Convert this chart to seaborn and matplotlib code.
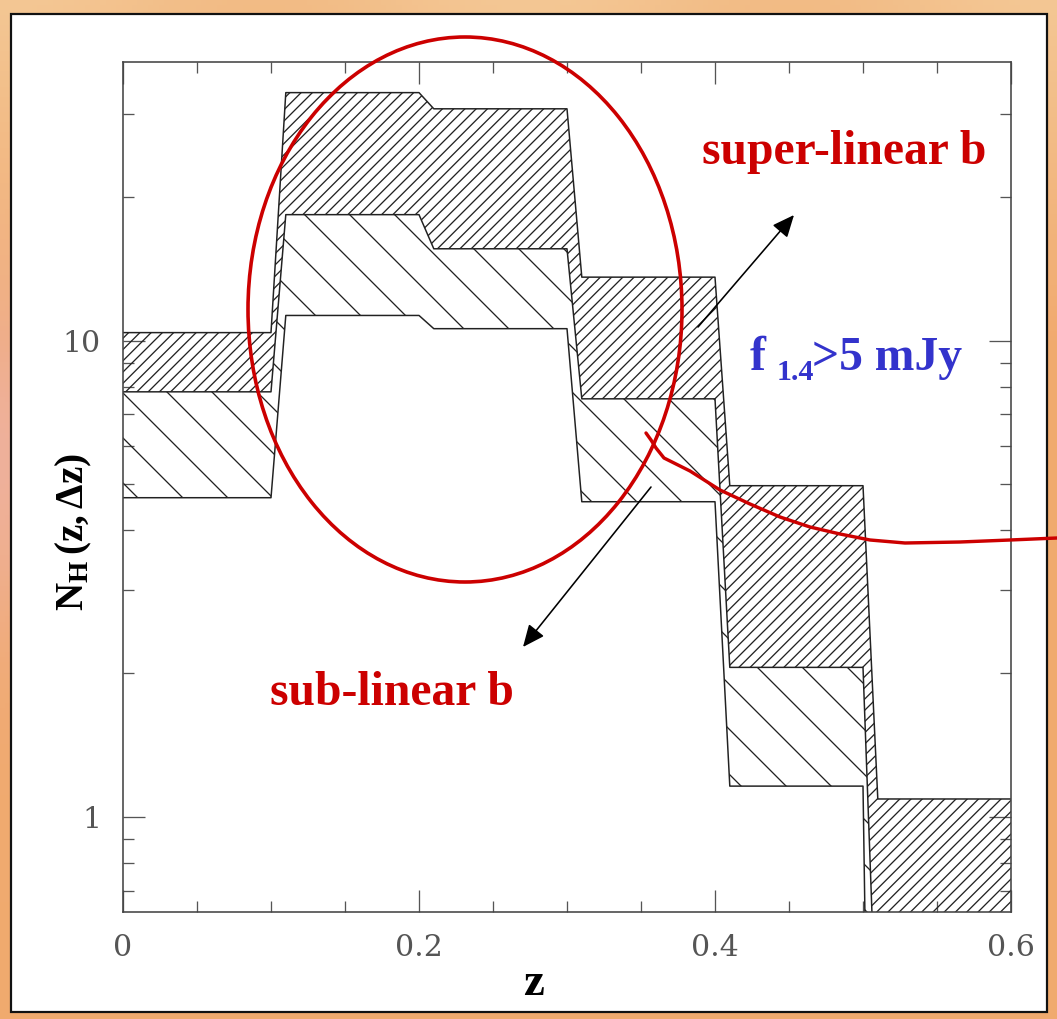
import numpy as np
import pandas as pd
import matplotlib
matplotlib.use("Agg")
import matplotlib.pyplot as plt
import seaborn as sns
from matplotlib.patches import Ellipse, Rectangle, FancyArrowPatch
from matplotlib.lines import Line2D
from matplotlib.ticker import FixedLocator, MultipleLocator, LogLocator, NullFormatter

# Redshift bins and the three estimates of N_H per bin
z_edges = [0.0, 0.1, 0.2, 0.3, 0.4, 0.5, 0.6]
n_super = [10.4, 33.2, 30.7, 13.6, 4.96, 1.09]   # super-linear b (upper envelope)
n_mid = [7.81, 18.4, 15.6, 7.55, 2.06, 0.29]     # intermediate
n_sub = [4.68, 11.3, 10.6, 4.59, 1.16, 0.01]     # sub-linear b (lower envelope)

x_ticks = [0.0, 0.2, 0.4, 0.6]
x_tick_labels = ["0", "0.2", "0.4", "0.6"]
y_ticks = [1, 10]
y_tick_labels = ["1", "10"]

W, H = 1057, 1019
DPI = 270
PT = 72.0 / DPI          # points per pixel
RAMP = 0.01              # width of the sloped step between bins


def step_outline(edges, vals):
    xs, ys = [], []
    for i, v in enumerate(vals):
        a = edges[i] + (RAMP if i > 0 else 0.0)
        xs += [a, edges[i + 1]]
        ys += [v, v]
    return np.array(xs), np.array(ys)


def fpos(x, y):
    """pixel position (from top-left) -> figure fraction"""
    return (x / W, 1.0 - y / H)


sns.set_theme(style="ticks")
plt.rcParams["mathtext.fontset"] = "custom"
plt.rcParams["mathtext.rm"] = "Liberation Serif:bold"
plt.rcParams["mathtext.bf"] = "Liberation Serif:bold"
plt.rcParams["mathtext.it"] = "Liberation Serif:bold"
plt.rcParams["hatch.linewidth"] = 1.3 * PT

fig = plt.figure(figsize=(W / DPI, H / DPI), dpi=DPI)
fig.patch.set_facecolor("#F1AC7A")

# warm slide background: soft orange-to-pink gradient
bg = fig.add_axes([0, 0, 1, 1], zorder=-10)
gx, gy = np.meshgrid(np.linspace(0, 1, 200), np.linspace(0, 1, 200))
orange = np.array([0.945, 0.667, 0.435])
peach = np.array([0.955, 0.780, 0.580])
pink = np.array([0.935, 0.700, 0.650])
w_peach = np.clip(1 - gy * 3, 0, 1) * (0.6 + 0.4 * np.cos(gx * np.pi * 2) ** 2)
w_pink = np.exp(-((gy - 0.45) ** 2) / 0.03) * np.clip(1 - gx * 4, 0, 1)
img = orange[None, None, :] * (1 - w_peach[..., None] - w_pink[..., None] * 0.8) \
    + peach[None, None, :] * w_peach[..., None] + pink[None, None, :] * w_pink[..., None] * 0.8
bg.imshow(np.clip(img, 0, 1), extent=[0, 1, 0, 1], aspect="auto", origin="upper")
bg.set_axis_off()

# white slide panel with dark frame
x0, y0 = fpos(11, 1012)
x1, y1 = fpos(1047, 14)
fig.add_artist(Rectangle((x0, y0), x1 - x0, y1 - y0, transform=fig.transFigure,
                         facecolor="white", edgecolor="#111111", lw=2.2 * PT, zorder=-5))

l, b = fpos(123, 912)
r, t = fpos(1011, 62)
ax = fig.add_axes([l, b, r - l, t - b])
ax.set_facecolor("white")
ax.set_yscale("log")

xs, up = step_outline(z_edges, n_super)
_, mid = step_outline(z_edges, n_mid)
_, lo = step_outline(z_edges, n_sub)

ax.fill_between(xs, mid, up, facecolor="none", edgecolor="#222222", hatch="////////",
                linewidth=0)
ax.fill_between(xs, lo, mid, facecolor="none", edgecolor="#222222", hatch="\\\\",
                linewidth=0)

df = pd.concat([
    pd.DataFrame({"z": xs, "N": up, "curve": "super"}),
    pd.DataFrame({"z": xs, "N": mid, "curve": "mid"}),
    pd.DataFrame({"z": xs, "N": lo, "curve": "sub"}),
])
sns.lineplot(data=df, x="z", y="N", units="curve", estimator=None, sort=False,
             color="#222222", lw=1.5 * PT, legend=False, ax=ax)

ax.set_xlim(0, 0.6)
ax.set_ylim(0.631, 38.5)
ax.set_xlabel("")
ax.set_ylabel("")

ax.xaxis.set_major_locator(FixedLocator(x_ticks))
ax.set_xticklabels(x_tick_labels)
ax.xaxis.set_minor_locator(MultipleLocator(0.05))
ax.yaxis.set_major_locator(FixedLocator(y_ticks))
ax.set_yticklabels(y_tick_labels)
ax.yaxis.set_minor_locator(LogLocator(base=10, subs=np.arange(2, 10)))
ax.yaxis.set_minor_formatter(NullFormatter())

ax.tick_params(which="both", direction="in", top=True, right=True, color="#555555",
               width=1.3 * PT)
ax.tick_params(which="major", length=22 * PT, pad=22 * PT)
ax.tick_params(which="minor", length=11 * PT)
for lab in ax.get_xticklabels() + ax.get_yticklabels():
    lab.set_fontfamily("DejaVu Serif")
    lab.set_fontsize(30 * PT)
    lab.set_color("#555555")
for s in ax.spines.values():
    s.set_color("#444444")
    s.set_linewidth(1.6 * PT)

# axis titles
serif_bold = dict(family="Liberation Serif", weight="bold")
fig.text(*fpos(533, 995), "z", ha="center", va="baseline", size=47 * PT,
         color="black", **serif_bold)
fig.text(*fpos(74, 532), r"$\mathbf{N_H\,(z,\Delta z)}$", ha="center", va="center",
         rotation=90, size=39 * PT, color="black")

# annotations
red = "#CC0000"
blue = "#3333CC"
fig.text(*fpos(702, 164), "super-linear b", ha="left", va="baseline", size=47.6 * PT,
         color=red, **serif_bold)
fig.text(*fpos(270, 705), "sub-linear b", ha="left", va="baseline", size=47.6 * PT,
         color=red, **serif_bold)
fig.text(*fpos(750, 370), "f", ha="left", va="baseline", size=47.6 * PT, color=blue,
         **serif_bold)
fig.text(*fpos(777, 380), "1.4", ha="left", va="baseline", size=30 * PT, color=blue,
         **serif_bold)
fig.text(*fpos(812, 370), ">5 mJy", ha="left", va="baseline", size=47.6 * PT,
         color=blue, **serif_bold)

fig.add_artist(Ellipse(fpos(465, 309.5), 434 / W, 545 / H, transform=fig.transFigure,
                       fill=False, edgecolor=red, lw=3.6 * PT, zorder=10))

curve_px = [(646, 433), (651, 440), (656, 448), (664, 458), (676, 464), (690, 471),
            (720, 490), (750, 504), (780, 517), (810, 527), (840, 534), (870, 540),
            (905, 543), (960, 542), (1010, 540), (1057, 538)]
cx = [fpos(x, y)[0] for x, y in curve_px]
cy = [fpos(x, y)[1] for x, y in curve_px]
fig.add_artist(Line2D(cx, cy, transform=fig.transFigure, color=red, lw=3.4 * PT,
                      solid_capstyle="round", solid_joinstyle="round", zorder=10))

for tail, head in [((698, 327), (794, 215)), ((651, 487), (523, 647))]:
    fig.add_artist(FancyArrowPatch(fpos(*tail), fpos(*head), transform=fig.transFigure,
                                   arrowstyle="-|>,head_length=0.5,head_width=0.22",
                                   mutation_scale=10, color="black", lw=1.6 * PT,
                                   shrinkA=0, shrinkB=0, zorder=11))

fig.savefig("out.png", dpi=DPI, facecolor=fig.get_facecolor())
